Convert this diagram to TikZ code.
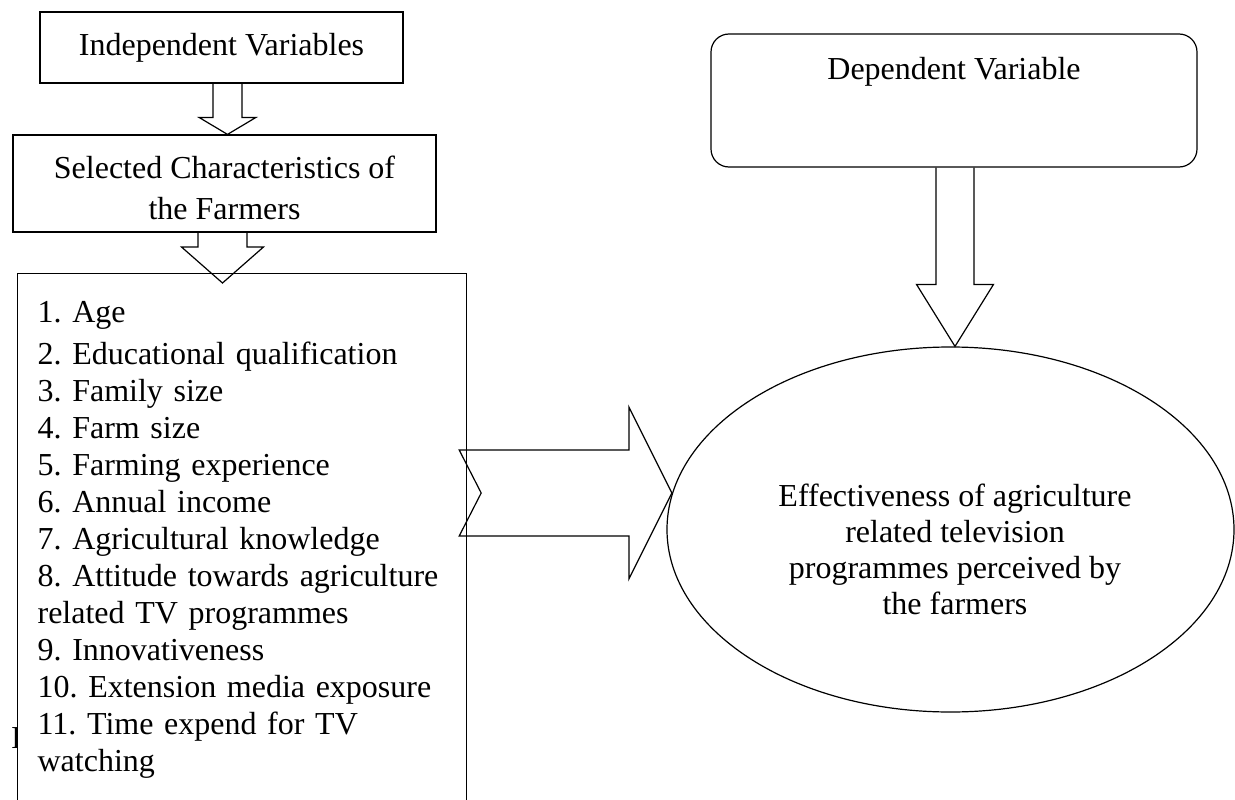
\documentclass[tikz,border=0pt]{standalone}
\usepackage{fontspec}
\setmainfont{Liberation Serif}
\usetikzlibrary{shapes.geometric,positioning,calc}
\tikzset{%
  % Specifications for style of nodes:
         base/.style = {draw=black, line width=1.2pt, fill=white},
       varbox/.style = {base, rectangle, align=center},
     roundbox/.style = {base, rectangle, rounded corners=18pt},
      listbox/.style = {base, rectangle, align=left, anchor=north west},
      outcome/.style = {base, ellipse, inner sep=0pt},
   blockarrow/.style = {draw=black, line width=1.2pt, line join=miter},
}
% hollow block arrow pointing down: tail, tip, shaft half width,
% head half width, head length
\newcommand{\blockdown}[5]{%
  \draw[blockarrow] ($(#1)+(-#3,0)$) -- ($(#2)+(-#3,-#5)$)
    -- ($(#2)+(-#4,-#5)$) -- (#2) -- ($(#2)+(#4,-#5)$)
    -- ($(#2)+(#3,-#5)$) -- ($(#1)+(#3,0)$);}

\begin{document}
\begin{tikzpicture}[x=1pt, y=-1pt,
    every node/.style={font=\fontsize{32}{37}\selectfont\frenchspacing}]
  \useasboundingbox (0,0) rectangle (1235,800);
  \clip (0,0) rectangle (1235,800);
  % Specification of nodes (position, etc.)
  \node (stub)     [anchor=base west, inner sep=0pt] at (11,748) {I};
  \node (indep)    [varbox, minimum width=363pt, minimum height=71pt]
                   at (221.5,47.5) {Independent Variables};
  \node (select)   [varbox, minimum width=423pt, minimum height=97pt,
                    font=\fontsize{32}{41}\selectfont]
                   at (224.5,183.5)
                   {\rule{0pt}{32pt}Selected Characteristics of\\the Farmers};
  \node (chars)    [listbox, text width=409pt, inner xsep=20pt,
                    inner ysep=28pt] at (17,273)
                   {1. Age\\[5pt]
                    2. Educational qualification\\
                    3. Family size\\
                    4. Farm size\\
                    5. Farming experience\\
                    6. Annual income\\
                    7. Agricultural knowledge\\
                    8. Attitude towards agriculture\\
                    related TV programmes\\
                    9. Innovativeness\\
                    10. Extension media exposure\\
                    11. Time expend for TV\\
                    watching};
  \node (depvar)   [roundbox, minimum width=486pt, minimum height=133pt]
                   at (954,100.5) {};
  \node (deplabel) [below=20.5pt of depvar.north] {Dependent Variable};
  \node (effect)   [outcome, minimum width=567pt, minimum height=365pt]
                   at (950.5,529.5) {};
  \node (effectlabel) [align=center, font=\fontsize{32}{36}\selectfont]
                   at ([xshift=4.5pt, yshift=-20pt]effect.center)
                   {Effectiveness of agriculture\\related television\\
                    programmes perceived by\\the farmers};
  % Specification of block arrows between nodes specified above
  \coordinate (a1tail) at ([xshift=6pt]indep.south);
  \coordinate (a1tip)  at (a1tail |- select.north);
  \blockdown{a1tail}{a1tip}{14.5}{28.5}{17}
  \coordinate (a2tail) at ([xshift=-2pt]select.south);
  \coordinate (a2tip)  at ($(a2tail |- chars.north)+(0,10)$);
  \blockdown{a2tail}{a2tip}{24.5}{41}{36}
  \coordinate (a3tail) at ([xshift=1pt]depvar.south);
  \coordinate (a3tip)  at (a3tail |- effect.north);
  \blockdown{a3tail}{a3tip}{19}{38.5}{62}
  \coordinate (a4tail) at ($(chars.north east)+(-8,220)$);
  \coordinate (a4tip)  at ($(a4tail -| effect.west)+(5.5,0)$);
  \draw[blockarrow] ($(a4tail)+(0,-43)$) -- ($(a4tip)+(-43,-43)$)
    -- ($(a4tip)+(-43,-86)$) -- (a4tip) -- ($(a4tip)+(-43,86)$)
    -- ($(a4tip)+(-43,43)$) -- ($(a4tail)+(0,43)$)
    -- ($(a4tail)+(22,0)$) -- cycle;
\end{tikzpicture}
\end{document}
